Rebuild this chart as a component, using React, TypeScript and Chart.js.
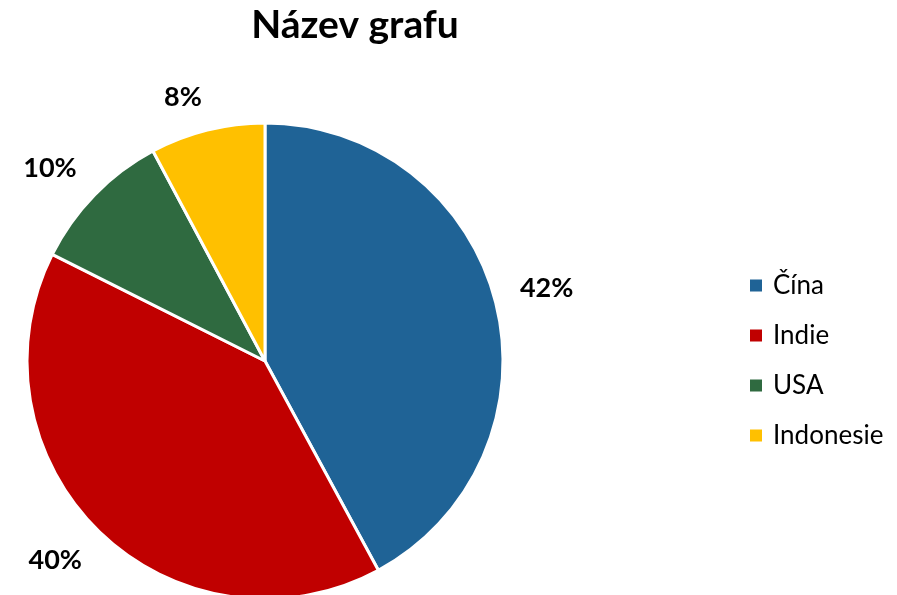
import React, { useEffect, useRef } from "react";
import { Chart, registerables } from "chart.js";

Chart.register(...registerables);

const TITLE = "Název grafu";
const categories = ["Čína", "Indie", "USA", "Indonesie"];
const shares = [42.1, 40.3, 9.8, 7.8];
const colors = ["#1F6396", "#C00000", "#2F6A40", "#FFC000"];

const FONT = "Lato, 'Open Sans', sans-serif";

const clamp = (v: number) => Math.max(-1, Math.min(1, v));

const decorPlugin = {
  id: "decor",
  afterDatasetsDraw(chart: any) {
    const ctx = chart.ctx as CanvasRenderingContext2D;
    const meta = chart.getDatasetMeta(0);
    const data = chart.data.datasets[0].data as number[];
    const total = data.reduce((a, b) => a + b, 0);
    ctx.save();
    // title
    ctx.fillStyle = "#000";
    ctx.font = `bold 39px ${FONT}`;
    ctx.textAlign = "center";
    ctx.textBaseline = "alphabetic";
    ctx.fillText(TITLE, 355, 38);

    // outside-end labels: box corner facing the centre sits on the mid-angle ray
    ctx.font = `bold 27px ${FONT}`;
    meta.data.forEach((arc: any, i: number) => {
      const p = arc.getProps(["x", "y", "startAngle", "endAngle", "outerRadius"], true);
      const mid = (p.startAngle + p.endAngle) / 2;
      const dx = Math.cos(mid);
      const dy = Math.sin(mid);
      const txt = Math.round((data[i] / total) * 100) + "%";
      const m = ctx.measureText(txt);
      const w = m.width;
      const h = m.actualBoundingBoxAscent;
      const dist = p.outerRadius + 25;
      const ax = p.x + dx * dist;
      const ay = p.y + dy * dist;
      const cx = ax + clamp(dx / 0.25) * (w / 2);
      const cy = ay + clamp(dy / 0.25) * (h / 2);
      ctx.textAlign = "center";
      ctx.fillText(txt, cx, cy + h / 2);
    });

    // legend
    ctx.font = `26px ${FONT}`;
    ctx.textAlign = "left";
    chart.data.labels.forEach((lab: string, i: number) => {
      const cy = 285.5 + i * 50;
      ctx.fillStyle = colors[i];
      ctx.fillRect(750, cy - 6, 12, 12);
      ctx.fillStyle = "#000";
      ctx.fillText(lab, 773, cy + 8);
    });
    ctx.restore();
  },
};

export default function App() {
  const ref = useRef<HTMLCanvasElement | null>(null);
  useEffect(() => {
    if (!ref.current) return;
    const chart = new Chart(ref.current, {
      type: "pie",
      data: {
        labels: categories,
        datasets: [
          {
            data: shares,
            backgroundColor: colors,
            borderColor: "#FFFFFF",
            borderWidth: 3,
          },
        ],
      },
      options: {
        animation: false,
        responsive: false,
        radius: 238,
        layout: { padding: { left: 28, right: 395, top: 127, bottom: 0 } },
        plugins: {
          legend: { display: false },
          title: { display: false },
          tooltip: { enabled: false },
        },
      } as any,
      plugins: [decorPlugin],
    });
    return () => chart.destroy();
  }, []);
  return (
    <div style={{ position: "fixed", left: 0, top: 0, width: 897, height: 595, background: "#fff" }}>
      <canvas ref={ref} width={897} height={595} style={{ width: 897, height: 595 }} />
    </div>
  );
}
